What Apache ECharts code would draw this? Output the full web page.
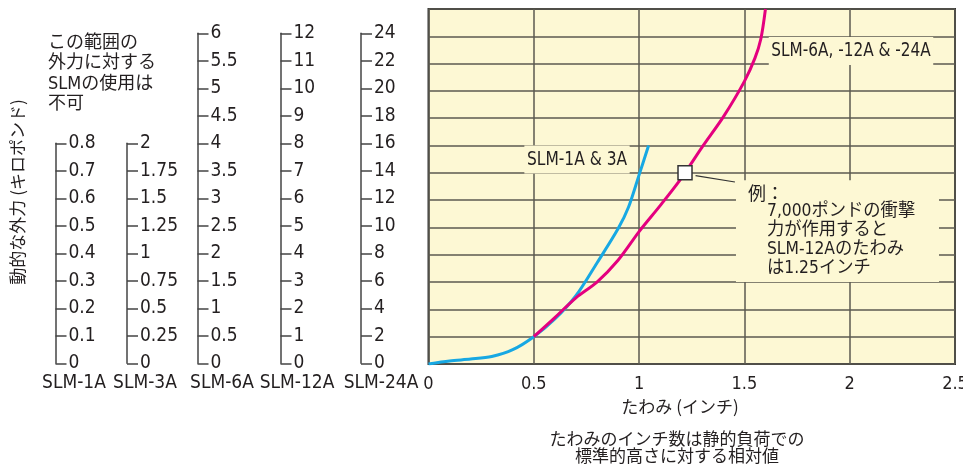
<!DOCTYPE html>
<html>
<head>
<meta charset="utf-8">
<script src="https://cdn.jsdelivr.net/npm/echarts@6/dist/echarts.min.js"></script>
<style>html,body{margin:0;padding:0;background:#fff}#c{width:963px;height:468px}</style>
</head>
<body>
<div id="c"></div>
<script>
// ---- data ----
const deflectionTicks = [0, 0.5, 1, 1.5, 2, 2.5];
const blueDeflection = [0, 0.1, 0.2, 0.3, 0.4, 0.5, 0.6, 0.7, 0.8, 0.9, 0.95, 1.0, 1.045];
const blueForce      = [0, 0.22, 0.36, 0.55, 1.05, 2.0, 3.3, 5.0, 7.4, 9.9, 11.5, 13.85, 16.0];
const pinkDeflection = [0.5, 0.6, 0.7, 0.8, 0.9, 1.0, 1.1, 1.2, 1.3, 1.4, 1.5, 1.55, 1.578, 1.6];
const pinkForce      = [2.0, 3.4, 4.85, 6.0, 7.6, 9.7, 11.6, 13.6, 15.9, 18.1, 20.7, 22.4, 23.8, 26];
const examplePoint = [1.218, 14];
const sideAxisNames = ['SLM-1A', 'SLM-3A', 'SLM-6A', 'SLM-12A', 'SLM-24A'];
const sideAxisMax = [0.8, 2, 6, 12, 24];
const sideAxisInterval = [0.1, 0.25, 0.5, 1, 2];

// ---- styles ----
const NARROW = "'Liberation Sans Narrow','Arial Narrow','DejaVu Sans Condensed','Noto Sans CJK JP',sans-serif";
const JP = "'Noto Sans CJK JP',sans-serif";
const TXT = '#231f20';
const BG = '#fdf8d4';
const GRIDC = '#5b5a50';

const sideX = [55.5, 127, 197.5, 280.5, 361];
const sideTop = [143.3, 143.3, 33.3, 33.3, 33.3];
const sideNameX = [74, 145, 222, 297, 381];

const grids = [{left: 428.5, top: 9, width: 526.5, height: 355, show: true, backgroundColor: BG,
  borderColor: '#333', borderWidth: 2, outerBoundsMode: 'none', containLabel: false}];
const xAxes = [{gridIndex: 0, type: 'value', min: 0, max: 2.5, interval: 0.5,
  axisLine: {show: false}, axisTick: {show: false},
  axisLabel: {fontSize: 18, fontFamily: NARROW, color: TXT, margin: 11},
  splitLine: {show: true, lineStyle: {color: GRIDC, width: 1.5}}}];
const yAxes = [{gridIndex: 0, type: 'value', min: 0, max: 26, interval: 2,
  axisLine: {show: false}, axisTick: {show: false}, axisLabel: {show: false},
  splitLine: {show: true, lineStyle: {color: GRIDC, width: 1.5}}}];

sideAxisMax.forEach((mx, i) => {
  grids.push({left: sideX[i], top: sideTop[i], width: 10, height: 363.3 - sideTop[i],
    outerBoundsMode: 'none', containLabel: false});
  xAxes.push({gridIndex: i + 1, type: 'value', show: false, min: 0, max: 1});
  yAxes.push({gridIndex: i + 1, type: 'value', position: 'left', min: 0, max: mx, interval: sideAxisInterval[i],
    axisLine: {show: true, lineStyle: {color: '#444', width: 1.5}},
    axisTick: {show: true, inside: true, length: 11, lineStyle: {color: '#444', width: 1.5}},
    axisLabel: {inside: true, margin: 13, fontSize: 19, fontFamily: NARROW, color: TXT},
    splitLine: {show: false}});
});

const zip = (a, b) => a.map((v, i) => [v, b[i]]);

const graphic = [];
sideAxisNames.forEach((n, i) => graphic.push({type: 'text', x: sideNameX[i], y: 383,
  style: {text: n, fontSize: 19, fontFamily: NARROW, fill: TXT, align: 'center', verticalAlign: 'middle', textAlign: 'center', textVerticalAlign: 'middle'}}));
graphic.push(
  {type: 'text', x: 48, y: 33, style: {text: 'この範囲の\n外力に対する\nSLMの使用は\n不可', fontSize: 18, lineHeight: 20.5,
    fontFamily: NARROW, fill: TXT, align: 'left', verticalAlign: 'top', textAlign: 'left', textVerticalAlign: 'top'}},
  {type: 'text', x: 18, y: 192, rotation: Math.PI / 2, style: {text: '動的な外力 (キロポンド)', fontSize: 17,
    fontFamily: JP, fill: TXT, align: 'center', verticalAlign: 'middle', textAlign: 'center', textVerticalAlign: 'middle'}},
  {type: 'text', x: 680, y: 407, style: {text: 'たわみ (インチ)', fontSize: 17, fontFamily: JP, fill: TXT,
    align: 'center', verticalAlign: 'middle', textAlign: 'center', textVerticalAlign: 'middle'}},
  {type: 'text', x: 677, y: 447, style: {text: 'たわみのインチ数は静的負荷での\n標準的高さに対する相対値', fontSize: 17, lineHeight: 17,
    fontFamily: JP, fill: TXT, align: 'center', verticalAlign: 'middle', textAlign: 'center', textVerticalAlign: 'middle'}},
  {type: 'text', x: 577, y: 159.5, z: 10, scaleX: 0.86, style: {text: 'SLM-1A & 3A', fontSize: 20, fontFamily: NARROW, fill: TXT,
    backgroundColor: BG, padding: [4, 3], align: 'center', verticalAlign: 'middle', textAlign: 'center', textVerticalAlign: 'middle'}},
  {type: 'text', x: 851, y: 51, z: 10, scaleX: 0.85, style: {text: 'SLM-6A, -12A & -24A', fontSize: 20, fontFamily: NARROW, fill: TXT,
    backgroundColor: BG, padding: [4, 3], align: 'center', verticalAlign: 'middle', textAlign: 'center', textVerticalAlign: 'middle'}},
  {type: 'text', x: 748, y: 193, z: 10, style: {text: '例：', fontSize: 18, fontFamily: JP, fill: TXT,
    align: 'left', verticalAlign: 'middle', textAlign: 'left', textVerticalAlign: 'middle'}},
  {type: 'text', x: 767, y: 202, z: 10, scaleX: 0.96, style: {text: '7,000ポンドの衝撃\n力が作用すると\nSLM-12Aのたわみ\nは1.25インチ', fontSize: 18, lineHeight: 19,
    fontFamily: NARROW, fill: TXT, align: 'left', verticalAlign: 'top', textAlign: 'left', textVerticalAlign: 'top'}}
);

const option = {
  animation: false,
  grid: grids,
  xAxis: xAxes,
  yAxis: yAxes,
  graphic: graphic,
  series: [
    {type: 'line', xAxisIndex: 0, yAxisIndex: 0, data: zip(blueDeflection, blueForce), smooth: 0.3,
      symbol: 'none', lineStyle: {color: '#17a8e3', width: 3}, z: 3},
    {type: 'line', xAxisIndex: 0, yAxisIndex: 0, data: zip(pinkDeflection, pinkForce), smooth: 0.3,
      symbol: 'none', lineStyle: {color: '#e4007f', width: 3}, z: 4},
    {type: 'scatter', xAxisIndex: 0, yAxisIndex: 0, data: [examplePoint], symbol: 'rect', symbolSize: 14, z: 5,
      itemStyle: {color: '#fff', borderColor: '#333', borderWidth: 1.5, opacity: 1},
      markArea: {silent: true, itemStyle: {color: BG, opacity: 1}, data: [[{coord: [1.46, 6.0]}, {coord: [2.424, 13.45]}]]},
      markLine: {silent: true, symbol: ['none', 'arrow'], symbolSize: [0, 10], label: {show: false},
        lineStyle: {color: '#333', width: 1.2, type: 'solid'},
        data: [[{coord: [1.455, 13.33]}, {coord: [1.268, 13.8]}]]}}
  ]
};
echarts.init(document.getElementById('c')).setOption(option);
</script>
</body>
</html>
